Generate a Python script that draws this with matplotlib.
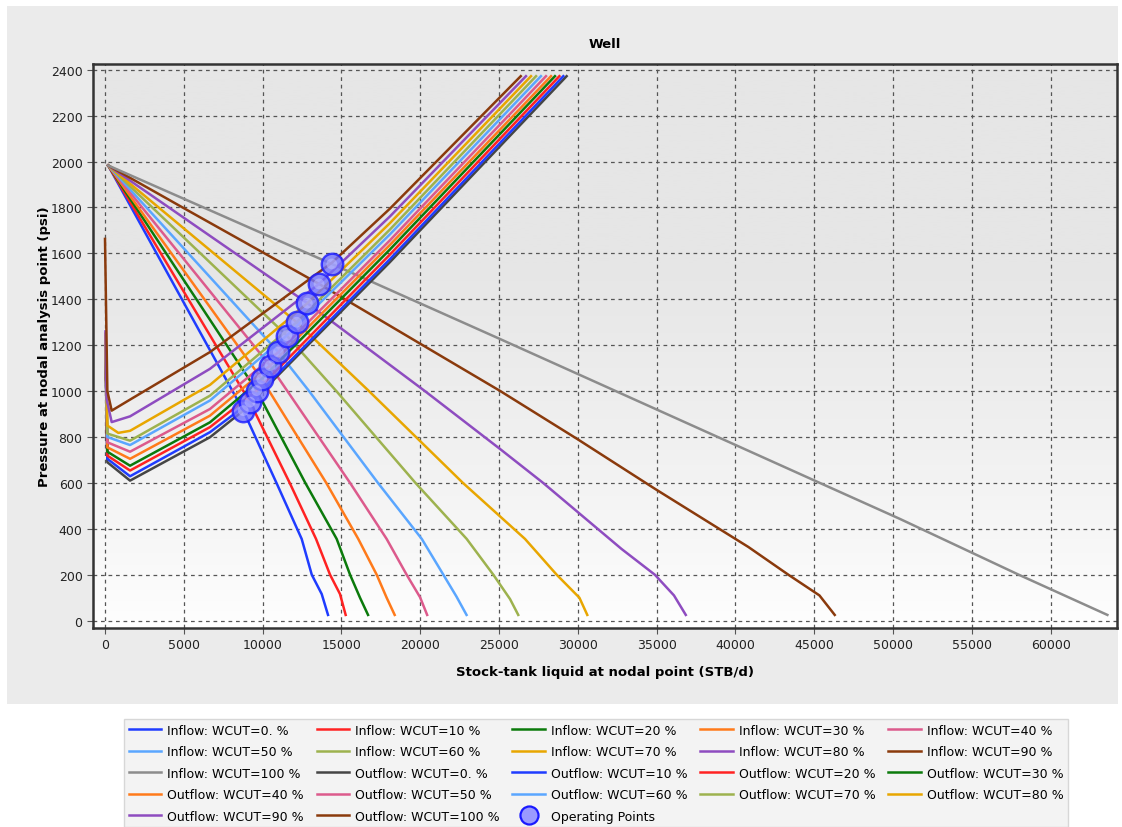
import numpy as np
import matplotlib
matplotlib.use('Agg')
import matplotlib.pyplot as plt
from matplotlib.lines import Line2D
from matplotlib.patches import Rectangle
from matplotlib.colors import LinearSegmentedColormap

plt.rcParams['font.family'] = ['DejaVu Sans']

# water cut cases (%)
wcut = [0, 10, 20, 30, 40, 50, 60, 70, 80, 90, 100]
wcut_txt = ['0.', '10', '20', '30', '40', '50', '60', '70', '80', '90', '100']

# inflow (IPR) curves: liquid rate STB/d, pressure psi
inflow_q = [
    [200, 8775, 10880, 12480, 13120, 13750, 14150],
    [200, 9200, 11720, 13390, 14280, 14910, 15270],
    [200, 9625, 12710, 14700, 15550, 16180, 16690],
    [200, 9940, 14040, 16070, 17240, 17870, 18380],
    [200, 10470, 15550, 17870, 19140, 19990, 20440],
    [200, 11000, 12950, 17320, 20100, 21470, 22300, 22940],
    [200, 11530, 14680, 19700, 22950, 24640, 25700, 26220],
    [200, 12160, 16750, 22710, 26650, 28660, 30100, 30600],
    [200, 12840, 20300, 25063, 27800, 32780, 34890, 36100, 36850],
    [200, 5000, 13580, 25063, 29950, 34900, 40820, 43360, 45330, 46300],
    [200, 14390, 25063, 45355, 50444, 57980, 63600],
]
inflow_p = [
    [1983, 915, 600, 356, 200, 116, 25],
    [1983, 952, 600, 356, 200, 116, 25],
    [1983, 1002, 600, 356, 200, 100, 25],
    [1983, 1053, 600, 356, 200, 100, 25],
    [1983, 1111, 600, 356, 200, 102, 25],
    [1983, 1170, 1000, 600, 356, 200, 105, 25],
    [1983, 1242, 1000, 600, 356, 200, 94, 25],
    [1983, 1300, 1000, 600, 356, 200, 100, 25],
    [1983, 1383, 1000, 748, 600, 312, 200, 110, 25],
    [1983, 1797, 1467, 1001, 792, 574, 321, 200, 110, 25],
    [1983, 1554, 1227, 600, 443, 200, 25],
]

# outflow (VLP) curves
outflow_q = [
    [30, 150, 1590, 6660, 8775, 18080, 29290],
    [30, 150, 1590, 6660, 9200, 18080, 29080],
    [30, 150, 1590, 6660, 9625, 18080, 28830],
    [30, 150, 1590, 6660, 9940, 18080, 28550],
    [30, 150, 1590, 6660, 10470, 18080, 28300],
    [30, 150, 1590, 6660, 11000, 18080, 27980],
    [30, 150, 1590, 6660, 11530, 18080, 27660],
    [30, 150, 1590, 6660, 12160, 18080, 27350],
    [30, 150, 845, 1590, 6660, 12840, 18080, 27030],
    [30, 100, 425, 1590, 6660, 13580, 18080, 26710],
    [0, 150, 425, 1590, 6660, 14390, 18080, 26380],
]
outflow_p = [
    [1150, 690, 610, 799, 915, 1562, 2372],
    [1200, 705, 629, 821, 952, 1575, 2372],
    [1200, 719, 654, 843, 1002, 1595, 2372],
    [1200, 736, 675, 864, 1053, 1617, 2372],
    [1210, 755, 705, 893, 1111, 1637, 2372],
    [1220, 777, 736, 922, 1170, 1657, 2372],
    [1230, 800, 765, 959, 1242, 1683, 2372],
    [1240, 815, 784, 980, 1300, 1704, 2372],
    [1250, 850, 818, 827, 1027, 1383, 1732, 2372],
    [1260, 966, 865, 890, 1097, 1467, 1761, 2372],
    [1663, 1000, 915, 963, 1170, 1559, 1795, 2372],
]

# operating points
op_q = [8775, 9200, 9625, 9940, 10470, 11000, 11530, 12160, 12840, 13580, 14390]
op_p = [915, 952, 1002, 1053, 1111, 1170, 1242, 1300, 1383, 1467, 1554]

palette = ['#1f3cff', '#ff2222', '#0b7a0b', '#ff7a1a', '#dc5a8c', '#5aa6ff',
           '#9db24e', '#e8a600', '#8e4cc0', '#8a3a0c', '#8c8c8c', '#454545']
inflow_colors = palette[:11]
outflow_colors = [palette[11]] + palette[:10]

fig = plt.figure(figsize=(11.22, 8.28), dpi=100)
fig.patch.set_facecolor('white')
fig.patches.append(Rectangle((7 / 1122, (828 - 705) / 828), 1111 / 1122, 698 / 828,
                             transform=fig.transFigure, facecolor='#ebebeb',
                             edgecolor='none', zorder=-10))

ax = fig.add_axes([93 / 1122, 1 - 629 / 828, 1024 / 1122, 564 / 828])

# vertical background gradient
g = np.clip(np.linspace(0, 1, 256) / 0.65, 0, 1) ** 0.8
cmap = LinearSegmentedColormap.from_list('bg', ['#ffffff', '#e6e6e6'])
ax.imshow(g.reshape(-1, 1), extent=[0, 1, 0, 1], transform=ax.transAxes,
          cmap=cmap, origin='lower', aspect='auto', zorder=0)

handles = []
labels = []
for i, w in enumerate(wcut):
    ln, = ax.plot(inflow_q[i], inflow_p[i], color=inflow_colors[i], lw=1.8, zorder=3)
    handles.append(ln)
    labels.append('Inflow: WCUT=%s %%' % wcut_txt[i])
for i, w in enumerate(wcut):
    ln, = ax.plot(outflow_q[i], outflow_p[i], color=outflow_colors[i], lw=1.8, zorder=3)
    handles.append(ln)
    labels.append('Outflow: WCUT=%s %%' % wcut_txt[i])

ax.scatter(op_q, op_p, s=240, facecolor='#7373ff', edgecolor='#1a1aff',
           linewidths=1.7, alpha=0.8, zorder=5)
ax.scatter(op_q, op_p, s=60, facecolor='#d0d0ff', edgecolor='none', alpha=0.45, zorder=6)
handles.append(Line2D([], [], ls='none', marker='o', markersize=13,
                      markerfacecolor='#9a9aff', markeredgecolor='#1a1aff', markeredgewidth=1.6))
labels.append('Operating Points')

ax.set_xlim(-761, 64210)
ax.set_ylim(-32, 2425)
ax.set_xticks(range(0, 60001, 5000))
ax.set_yticks(range(0, 2401, 200))
ax.grid(True, linestyle=(0, (3, 3)), color='#555555', lw=0.9, zorder=1)
ax.tick_params(direction='out', length=4, color='#555555', labelsize=9, labelcolor='#222222')
for s in ax.spines.values():
    s.set_color('#333333')
    s.set_linewidth(1.8)

ax.set_xlabel('Stock-tank liquid at nodal point (STB/d)', fontsize=9.5, fontweight='bold', labelpad=10)
ax.set_ylabel('Pressure at nodal analysis point (psi)', fontsize=9.5, fontweight='bold', labelpad=0)
fig.text(605 / 1122, 1 - 45 / 828, 'Well', ha='center', va='center', fontsize=9.5, fontweight='bold')

# legend order: row-major in a 5 column layout
order = []
for c in range(5):
    for r in range(5):
        k = r * 5 + c
        if k < len(handles):
            order.append(k)
leg = fig.legend([handles[k] for k in order], [labels[k] for k in order], ncol=5,
                 loc='upper left', bbox_to_anchor=(118 / 1122, 1 - 714 / 828),
                 fontsize=9, handlelength=2.6, handletextpad=0.5, columnspacing=1.0,
                 labelspacing=0.68, borderpad=0.35, fancybox=False, frameon=True)
leg.get_frame().set_facecolor('#f0f0f0')
leg.get_frame().set_edgecolor('#cfcfcf')
leg.get_frame().set_linewidth(1.0)

fig.savefig('out.png', dpi=100)
